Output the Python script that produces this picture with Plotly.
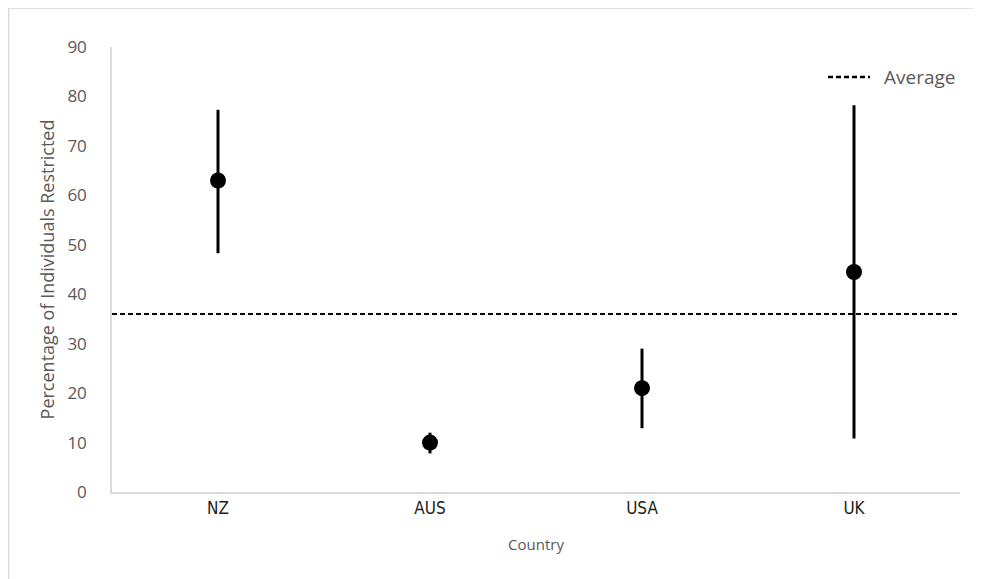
import plotly.graph_objects as go

countries = ["NZ", "AUS", "USA", "UK"]
values = [63, 10, 21, 44.5]
err_plus = [14.3, 2.0, 8.0, 33.7]
err_minus = [14.7, 2.2, 8.1, 33.7]
average = 36
y_ticks = [0, 10, 20, 30, 40, 50, 60, 70, 80, 90]

# page body has an 8px margin, so figure is laid out in coordinates offset by 8px
W, H = 965, 571
L, R, T, B = 104, 13, 39, 87
pw = W - L - R
ph = H - T - B

def px_x(p):
    return (p - L) / pw

def px_y(p):
    return (H - B - p) / ph

fig = go.Figure()

fig.add_trace(go.Scatter(
    x=countries, y=values, mode="markers",
    marker=dict(color="black", size=16),
    error_y=dict(type="data", symmetric=False, array=err_plus, arrayminus=err_minus,
                 color="black", thickness=3, width=0),
    showlegend=False,
))

dash_style = "5px,3px"
fig.add_shape(type="line", xref="x domain", yref="y", x0=0, x1=1, y0=average, y1=average,
              line=dict(color="black", width=2, dash=dash_style))

# legend (manual) : dashed sample + label
fig.add_shape(type="line", xref="paper", yref="paper",
              x0=px_x(820), x1=px_x(862), y0=px_y(69), y1=px_y(69),
              line=dict(color="black", width=2.5, dash=dash_style))
fig.add_annotation(xref="paper", yref="paper", x=px_x(874), y=px_y(69),
                   xanchor="left", yanchor="middle", text="Average", showarrow=False,
                   font=dict(size=19, color="#595959"))

# outer frame (partial, left and top)
fig.add_shape(type="line", xref="paper", yref="paper", x0=px_x(0.5), x1=px_x(0.5), y0=px_y(0), y1=px_y(H),
              line=dict(color="#d9d9d9", width=1.5))
fig.add_shape(type="line", xref="paper", yref="paper", x0=px_x(0), x1=px_x(W), y0=px_y(0), y1=px_y(0),
              line=dict(color="#d9d9d9", width=1.5))

fig.update_layout(
    width=W, height=H,
    margin=dict(l=L, r=R, t=T, b=B),
    plot_bgcolor="white", paper_bgcolor="white",
    font=dict(family="Open Sans, Noto Sans, sans-serif", color="#595959"),
    showlegend=False,
    xaxis=dict(
        type="category", categoryorder="array", categoryarray=countries,
        range=[-0.5, 3.5], showgrid=False, zeroline=False,
        showline=True, linecolor="#d9d9d9", linewidth=1.5,
        ticks="", tickfont=dict(family="DejaVu Sans Condensed, Liberation Sans Narrow, sans-serif", size=17, color="#222222"),
        title=dict(text="Country", font=dict(size=15, color="#595959"), standoff=22),
    ),
    yaxis=dict(
        range=[0, 90], tickvals=y_ticks, showgrid=False, zeroline=False,
        showline=True, linecolor="#d9d9d9", linewidth=1.5,
        ticks="", ticklabelstandoff=20,
        tickfont=dict(size=17, color="#595959"),
        title=dict(text="Percentage of Individuals Restricted", font=dict(size=18, color="#595959"), standoff=8),
    ),
)

fig.write_html("out.html")
